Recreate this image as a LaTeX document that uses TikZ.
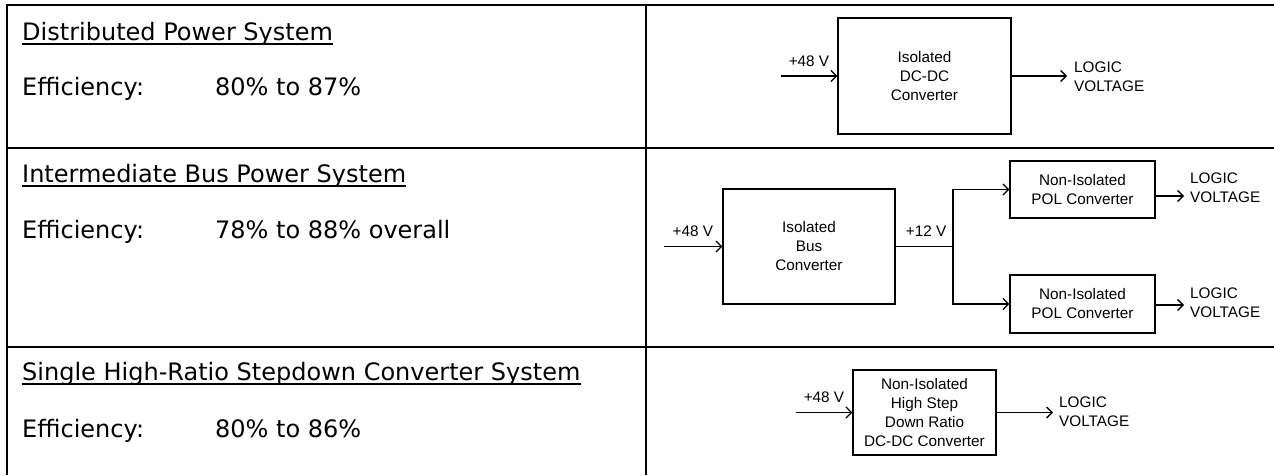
\documentclass[tikz,border=0pt]{standalone}
\usepackage{fontspec}
\setmainfont{DejaVu Sans}
\newfontfamily\arialfont{Liberation Sans}
\usetikzlibrary{arrows.meta,calc}
\begin{document}
\begin{tikzpicture}[x=1pt,y=-1pt,
  tbl/.style={line width=2.2pt},
  smallfont/.style={font=\arialfont\fontsize{15.3}{19}\selectfont},
  blk/.style={draw,line width=1.3pt,inner sep=0pt,align=center,smallfont},
  lbl/.style={inner sep=0pt,smallfont},
  outtxt/.style={inner sep=0pt,align=left,anchor=west,smallfont},
  ttl/.style={inner sep=0pt,anchor=base west,font=\fontsize{24}{29}\selectfont},
  uline/.style={line width=1.6pt},
  wire/.style={line width=1.3pt},
  arr/.style={wire,-{Straight Barb[length=5.5pt,width=11pt]}},
]
\useasboundingbox (0,0) rectangle (1274,475);
% table
\draw[tbl] (7,5) -- (1274,5);
\draw[tbl] (7,148) -- (1274,148);
\draw[tbl] (7,347) -- (1274,347);
\draw[tbl] (7,4) -- (7,475);
\draw[tbl] (646,4) -- (646,475);

% left column texts
\node[ttl] (t1) at (22,40) {Distributed Power System};
\node[ttl] (e1) at (22,95) {Efficiency:};
\node[ttl] (v1) at (215,95) {80\% to 87\%};
\node[ttl] (t2) at (22,182) {Intermediate Bus Power System};
\node[ttl] (e2) at (22,238) {Efficiency:};
\node[ttl] (v2) at (215,238) {78\% to 88\% overall};
\node[ttl] (t3) at (22,380) {Single High-Ratio Stepdown Converter System};
\node[ttl] (e3) at (22,437) {Efficiency:};
\node[ttl] (v3) at (215,437) {80\% to 86\%};
\foreach \t in {t1,t2,t3}
  \draw[uline] ([yshift=-4pt]\t.base west) -- ([yshift=-4pt]\t.base east);

% row 1
\node[blk,minimum width=173pt,minimum height=116pt] (b1) at (924.5,76) {Isolated\\DC-DC\\Converter};
\coordinate (in1) at (781,76);
\coordinate (o1) at (1067,76);
\draw[arr] (in1) -- (b1.west);
\draw[arr] (b1.east) -- (o1);
\node[lbl,anchor=base east] (l1) at ($(b1.west)+(-8,-10)$) {+48 V};
\node[outtxt] (g1) at ($(o1)+(7,1)$) {LOGIC\\VOLTAGE};

% row 2
\node[blk,minimum width=172pt,minimum height=115pt] (bus) at (809,246.5) {Isolated\\Bus\\Converter};
\node[blk,minimum width=145pt,minimum height=57pt] (pol1) at (1082.5,189.5) {Non-Isolated\\POL Converter};
\node[blk,minimum width=145pt,minimum height=58pt] (pol2) at (1082.5,304) {Non-Isolated\\POL Converter};
\coordinate (in2) at (664,246.5);
\coordinate (j) at (953,246.5);
\draw[arr] (in2) -- (bus.west);
\node[lbl,anchor=base east] (l2) at ($(bus.west)+(-9,-10)$) {+48 V};
\draw[wire] (bus.east) -- (j);
\draw[arr] (j) |- (pol1.west);
\draw[arr] (j) |- (pol2.west);
\node[lbl,anchor=base west] (l12) at ($(bus.east)+(10,-10)$) {+12 V};
\coordinate (o2a) at (1184,196);
\coordinate (o2b) at (1184,305);
\draw[arr] (pol1.east |- o2a) -- (o2a);
\draw[arr] (pol2.east |- o2b) -- (o2b);
\node[outtxt] (g2a) at (1190,188) {LOGIC\\VOLTAGE};
\node[outtxt] (g2b) at (1190,303) {LOGIC\\VOLTAGE};

% row 3
\node[blk,minimum width=143pt,minimum height=85pt] (b3) at (924.5,412.5) {Non-Isolated\\High Step\\Down Ratio\\DC-DC Converter};
\coordinate (in3) at (796,412.5);
\coordinate (o3) at (1053,412.5);
\draw[arr] (in3) -- (b3.west);
\draw[arr] (b3.east) -- (o3);
\node[lbl,anchor=base east] (l3) at ($(b3.west)+(-8,-10)$) {+48 V};
\node[outtxt] (g3) at ($(o3)+(6,-1)$) {LOGIC\\VOLTAGE};
\end{tikzpicture}
\end{document}
